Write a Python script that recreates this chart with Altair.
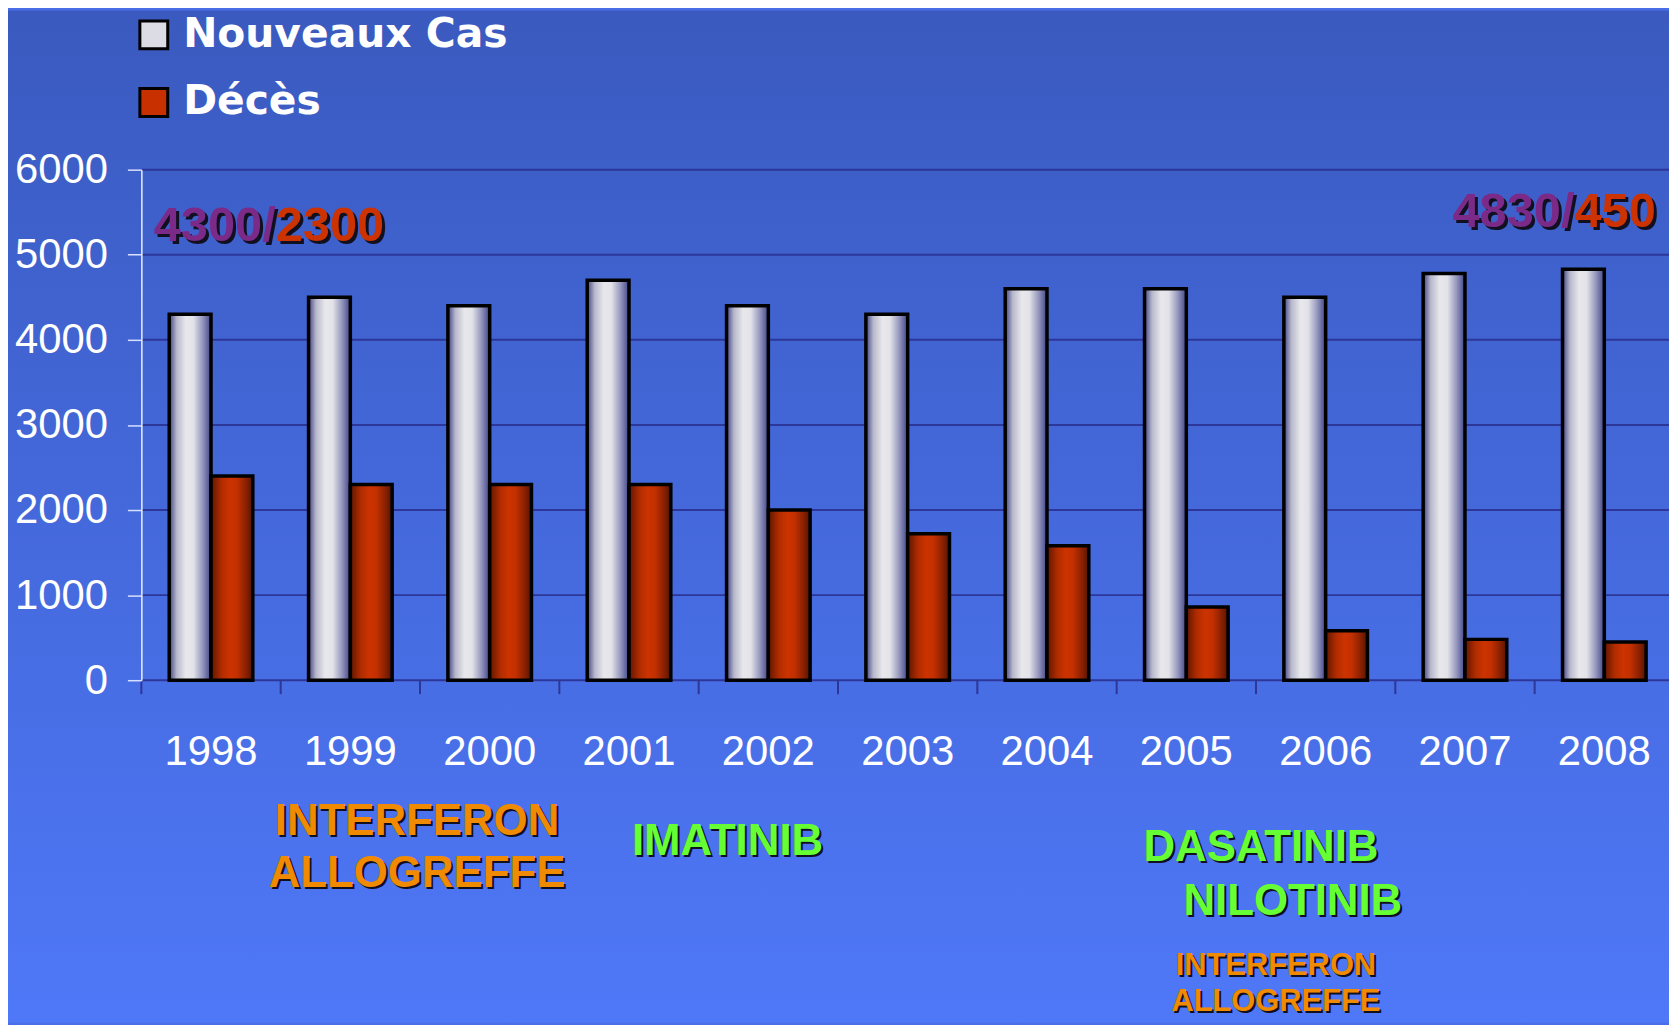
import altair as alt
import pandas as pd

# ---------------- data ----------------
years = ["1998", "1999", "2000", "2001", "2002", "2003", "2004", "2005", "2006", "2007", "2008"]
nouveaux_cas = [4300, 4500, 4400, 4700, 4400, 4300, 4600, 4600, 4500, 4780, 4830]
deces = [2400, 2300, 2300, 2300, 2000, 1720, 1580, 860, 580, 480, 450]
series = ["Nouveaux Cas", "Décès"]
y_ticks = [0, 1000, 2000, 3000, 4000, 5000, 6000]

note_first = ["4300/", "2300"]
note_last = ["4830/", "450"]
note_treat_1 = ["INTERFERON", "ALLOGREFFE"]
note_treat_2 = ["IMATINIB"]
note_treat_3 = ["DASATINIB", "NILOTINIB"]
note_treat_4 = ["INTERFERON", "ALLOGREFFE"]

# ---------------- layout / style ----------------
W, H = 1535, 513
PAD_L, PAD_T, PAD_B = 134, 160, 344
FONT = "Liberation Sans"
PURPLE = "#7b2a88"
RED = "#cc3300"
ORANGE = "#f08a00"
GREEN = "#66ff33"
GRID = "#2d3699"

df = pd.DataFrame({
    "year": years * 2,
    "series": [series[0]] * len(years) + [series[1]] * len(years),
    "value": nouveaux_cas + deces,
})

xscale = alt.Scale(domain=years, range=[0, 1540], paddingInner=0.4, paddingOuter=0.2)
yscale = alt.Scale(domain=[0, 6000], nice=False)
yaxis = alt.Axis(values=y_ticks, format="d", title=None, grid=False, labelFontSize=42, labelFont=FONT,
                 labelColor="white", tickColor="#d8e0ff", tickSize=14, tickWidth=1.5,
                 domainColor="#e8eeff", domainWidth=1.5, labelPadding=20, zindex=1)
xaxis = alt.Axis(title=None, domain=False, ticks=False, labelAngle=0, labelFontSize=42,
                 labelFont=FONT, labelColor="white", labelPadding=52, zindex=1)

# background gradient
bg = alt.Chart(pd.DataFrame({"a": [0]})).mark_rect(
    fill=alt.Gradient(gradient="linear", x1=0, x2=0, y1=0, y2=1,
                      stops=[alt.GradientStop(color="#3a5abf", offset=0),
                             alt.GradientStop(color="#4f78f8", offset=1)])
).encode(x=alt.value(-PAD_L), x2=alt.value(W + 20), y=alt.value(-PAD_T), y2=alt.value(H + PAD_B))

grid = alt.Chart(pd.DataFrame({"v": y_ticks})).mark_rule(color=GRID, strokeWidth=2).encode(
    y=alt.Y("v:Q", scale=yscale, axis=yaxis), x=alt.value(0), x2=alt.value(W + 20)
)

xticks = alt.Chart(pd.DataFrame({"year": years})).mark_rule(color=GRID, strokeWidth=2, xOffset=-28).encode(
    x=alt.X("year:N", scale=xscale, axis=xaxis, bandPosition=0),
    y=alt.value(H), y2=alt.value(H + 14)
)

grad_grey = alt.Gradient(gradient="linear", x1=0, x2=1, y1=0, y2=0, stops=[
    alt.GradientStop(color="#3f4382", offset=0),
    alt.GradientStop(color="#b8b8cc", offset=0.18),
    alt.GradientStop(color="#e8e8ec", offset=0.4),
    alt.GradientStop(color="#e2e2e8", offset=0.58),
    alt.GradientStop(color="#9496bc", offset=0.8),
    alt.GradientStop(color="#40448a", offset=1)])
grad_red = alt.Gradient(gradient="linear", x1=0, x2=1, y1=0, y2=0, stops=[
    alt.GradientStop(color="#5e1600", offset=0),
    alt.GradientStop(color="#b02c00", offset=0.25),
    alt.GradientStop(color="#cc3300", offset=0.45),
    alt.GradientStop(color="#c43000", offset=0.62),
    alt.GradientStop(color="#862000", offset=0.85),
    alt.GradientStop(color="#541300", offset=1)])

off = alt.XOffset("series:N", scale=alt.Scale(domain=series, paddingInner=0, paddingOuter=0))

base = alt.Chart(df)
bars_n = base.transform_filter(alt.datum.series == series[0]).mark_bar(
    fill=grad_grey, stroke="black", strokeWidth=3.5).encode(
    x=alt.X("year:N", scale=xscale, axis=xaxis), xOffset=off,
    y=alt.Y("value:Q", scale=yscale, axis=yaxis))
bars_d = base.transform_filter(alt.datum.series == series[1]).mark_bar(
    fill=grad_red, stroke="black", strokeWidth=3.5).encode(
    x=alt.X("year:N", scale=xscale, axis=xaxis), xOffset=off,
    y=alt.Y("value:Q", scale=yscale, axis=yaxis))

legend_layer = base.mark_square(opacity=0, size=1).encode(
    x=alt.X("year:N", scale=xscale, axis=xaxis),
    y=alt.Y("value:Q", scale=yscale, axis=yaxis),
    color=alt.Color("series:N", scale=alt.Scale(domain=series, range=["#dcdce4", "#c83000"]),
                    legend=alt.Legend(orient="none", legendX=-8, legendY=-156, direction="vertical",
                                      title=None, symbolType="square", symbolSize=784,
                                      symbolStrokeColor="black", symbolStrokeWidth=3,
                                      symbolOpacity=1, labelLimit=0,
                                      labelFontSize=41, labelFont="DejaVu Sans", labelFontWeight="bold",
                                      labelColor="white", labelOffset=9, rowPadding=26,
                                      padding=0)))


def text_layer(txt, x, y, color, size, align="center", shadow=2):
    d = pd.DataFrame({"t": [txt]})
    layers = []
    if shadow:
        layers.append(alt.Chart(d).mark_text(font=FONT, fontWeight="bold", fontSize=size, align=align,
                                             baseline="middle", color="#101020", dx=shadow, dy=shadow)
                      .encode(text="t:N", x=alt.value(x), y=alt.value(y)))
    layers.append(alt.Chart(d).mark_text(font=FONT, fontWeight="bold", fontSize=size, align=align,
                                         baseline="middle", color=color)
                  .encode(text="t:N", x=alt.value(x), y=alt.value(y)))
    return layers


texts = []
texts += text_layer(note_first[0], 135, 57, PURPLE, 49, "right", 3)
texts += text_layer(note_first[1], 135, 57, RED, 49, "left", 3)
texts += text_layer(note_last[0], 1440, 43, PURPLE, 49, "right", 3)
texts += text_layer(note_last[1], 1440, 43, RED, 49, "left", 3)
texts += text_layer(note_treat_1[0], 277, 656, ORANGE, 44)
texts += text_layer(note_treat_1[1], 277, 708, ORANGE, 44)
texts += text_layer(note_treat_2[0], 589, 676, GREEN, 44)
texts += text_layer(note_treat_3[0], 1125, 682, GREEN, 44)
texts += text_layer(note_treat_3[1], 1157, 736, GREEN, 44)
texts += text_layer(note_treat_4[0], 1140, 800, ORANGE, 31)
texts += text_layer(note_treat_4[1], 1140, 836, ORANGE, 31)

chart = alt.layer(bg, grid, xticks, bars_n, bars_d, legend_layer, *texts).properties(
    width=W, height=H,
    autosize=alt.AutoSizeParams(type="none"),
    padding={"left": PAD_L, "top": PAD_T, "right": 0, "bottom": PAD_B},
    background="#4a6ee8",
).configure_view(stroke=None)

chart.save("out.html", embed_options={"renderer": "svg", "actions": False})
